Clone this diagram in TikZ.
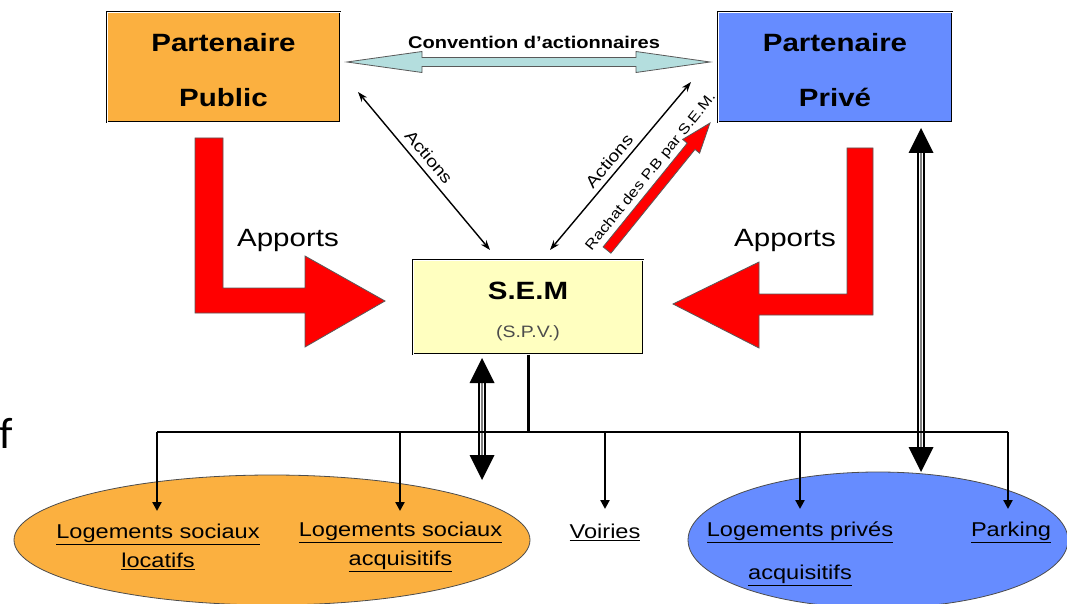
\documentclass[tikz,border=0pt]{standalone}
\usepackage{fontspec}
\newfontfamily\arial[FakeStretch=1.18]{Liberation Sans}
\newfontfamily\calib{Carlito}
\usetikzlibrary{arrows.meta,shapes.geometric,calc}
\definecolor{pubor}{RGB}{251,176,64}
\definecolor{privbl}{RGB}{102,140,255}
\definecolor{semy}{RGB}{255,255,192}
\definecolor{convc}{RGB}{180,222,222}
\definecolor{apred}{RGB}{255,0,0}
\tikzset{
  partbox/.style={draw=black, double=white, double distance=0.8pt, line width=1pt,
    minimum height=110, inner sep=0},
  parttext/.style={align=center, inner sep=0,
    font=\arial\bfseries\fontsize{25}{30}\selectfont},
  blockarrow/.style={draw=black!65, line width=0.8pt},
  thinarrow/.style={line width=1.4pt, {Stealth[length=10pt,width=7pt]}-{Stealth[length=10pt,width=7pt]}},
  droparrow/.style={line width=2.4pt, -{Triangle[length=9pt,width=9pt]}},
  leaf/.style={font=\arial\fontsize{20}{29}\selectfont, align=center, inner sep=0},
  rotlabel/.style={font=\arial\fontsize{16.5}{18}\selectfont, inner sep=0},
  ell/.style={ellipse, draw=black!70, line width=0.8pt, inner sep=0},
}
\newcommand\mytriplearrow[3]{% x, y top tip, y bottom tip
  \draw[line width=8pt, black] (#1,#2+24) -- (#1,#3-24);
  \draw[line width=4.5pt, white] (#1,#2+24) -- (#1,#3-24);
  \draw[line width=2pt, black!50] (#1,#2+24) -- (#1,#3-24);
  \fill[black] (#1,#2) -- (#1-12.5,#2+25) -- (#1+12.5,#2+25) -- cycle;
  \fill[black] (#1,#3) -- (#1-12.5,#3-25) -- (#1+12.5,#3-25) -- cycle;
}
\begin{document}
\begin{tikzpicture}[x=1pt,y=-1pt]
\useasboundingbox (0,0) rectangle (1067,604);

% ellipses
\node[ell, fill=pubor, minimum width=516, minimum height=130] (ell1) at (272,540) {};
\node[ell, fill=privbl, minimum width=380, minimum height=136] (ell2) at (878,540) {};

% top boxes
\node[partbox, fill=pubor, minimum width=233] (pub) at (223.5,67) {};
\node[parttext] (pubt) at (223.5,70) {Partenaire\\[25pt]Public};
\node[partbox, fill=privbl, minimum width=234] (priv) at (835,67) {};
\node[parttext] (privt) at (835,70) {Partenaire\\[25pt]Privé};

% SEM
\node[draw=black, double=white, double distance=0.8pt, line width=1pt, fill=semy,
  minimum width=230, minimum height=94, inner sep=0] (sem) at (528,307) {};
\node[align=center, inner sep=0, font=\arial\fontsize{16.5}{20}\selectfont] (semt) at (528,311)
  {{\bfseries\fontsize{25}{30}\selectfont S.E.M}\\[18pt]{\color{black!70}(S.P.V.)}};

% convention arrow
\path[blockarrow, fill=convc] (347,62) -- (422,51.5) -- (422,57.5) -- (636,57.5) -- (636,51.5)
  -- (710,62) -- (636,72.5) -- (636,66.5) -- (422,66.5) -- (422,72.5) -- cycle;
\node[font=\arial\bfseries\fontsize{17}{20}\selectfont] (conv) at (534,42) {Convention d’actionnaires};

% actions arrows
\coordinate (a1) at (358,92);
\coordinate (a2) at (490,250);
\coordinate (b1) at (550,250);
\coordinate (b2) at (691,82);
\draw[thinarrow] (a1) -- (a2);
\draw[thinarrow] (b1) -- (b2);
\node[rotlabel, rotate=-50] (act1) at (429,157) {Actions};
\node[rotlabel, rotate=50] (act2) at (609,161) {Actions};

% rachat arrow
\path[blockarrow, fill=apred] (610.9,253.2) -- (603.1,246.9) -- (687.2,143.2) -- (682.6,139.4)
  -- (710,123) -- (699.6,153.2) -- (695.0,149.4) -- cycle;
\node[font=\arial\fontsize{14.2}{16}\selectfont, rotate=51, inner sep=0] (rach) at (651,172) {Rachat des P.B par S.E.M.};

% Apports L arrows
\path[blockarrow, fill=apred] (195,138) -- (223,138) -- (223,288) -- (305,288) -- (305,256)
  -- (385,301) -- (305,347) -- (305,313) -- (195,313) -- cycle;
\path[blockarrow, fill=apred] (873,148) -- (847,148) -- (847,294) -- (759,294) -- (759,262)
  -- (673,304) -- (759,348) -- (759,315) -- (873,315) -- cycle;
\node[font=\arial\fontsize{25}{30}\selectfont] (app1) at (288,240) {Apports};
\node[font=\arial\fontsize{25}{30}\selectfont] (app2) at (785,240) {Apports};

% triple-line double arrows
\mytriplearrow{921}{128}{472}
\mytriplearrow{482}{358}{480}

% tree
\coordinate (bus) at (528,432);
\draw[line width=3pt] (sem.south) -- (bus);
\draw[line width=2.6pt] (157,432) -- (1008,432);
\coordinate (d1) at (157,511);
\coordinate (d2) at (400,511);
\coordinate (d3) at (605,509);
\coordinate (d4) at (800,509);
\coordinate (d5) at (1008,509);
\foreach \d in {d1,d2,d3,d4,d5} \draw[droparrow] (\d |- bus) -- (\d);

% leaves
\node[leaf] (ls1) at (158,547) {\underline{Logements sociaux}\\\underline{locatifs}};
\node[leaf] (ls2) at (400.5,547) {\underline{Logements sociaux}\\\underline{acquisitifs}};
\node[leaf] (voir) at (605,532.5) {\underline{Voiries}};
\node[leaf] (lp) at (800,554) {\underline{Logements privés}\\[14pt]\underline{acquisitifs}};
\node[leaf] (park) at (1011,532.5) {\underline{Parking}};

% stray glyph
\node[font=\calib\fontsize{44}{50}\selectfont, anchor=base west, inner sep=0] (ff) at (-1,448) {f};
\end{tikzpicture}
\end{document}
